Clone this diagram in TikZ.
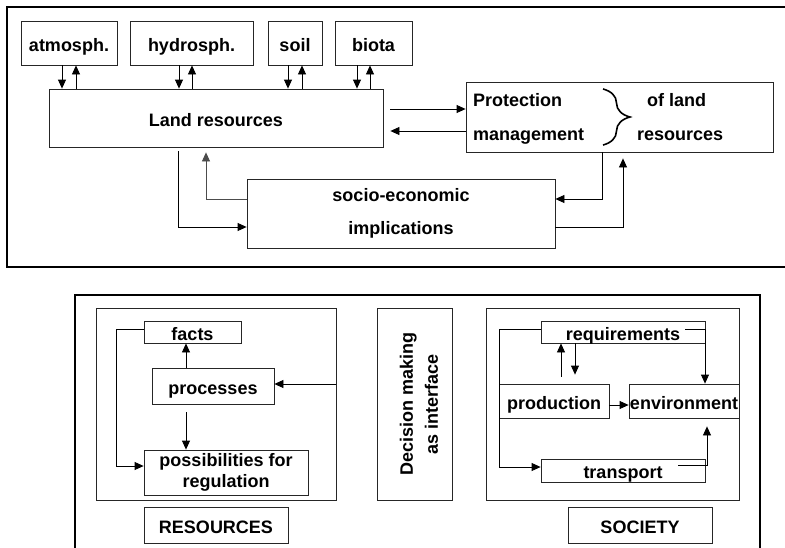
\documentclass[tikz,border=0pt]{standalone}
\usepackage{fontspec}
\setmainfont{Liberation Sans}
\usetikzlibrary{arrows.meta,decorations.pathreplacing}
\begin{document}
\begin{tikzpicture}[x=1pt,y=-1pt,
  bx/.style={draw=black!85, line width=0.8pt, inner sep=0pt, rectangle, align=center, font=\bfseries\fontsize{18}{21}\selectfont},
  one/.style={bx, text height=16pt, text depth=0pt},
  lbl/.style={inner sep=0pt, font=\bfseries\fontsize{18}{22}\selectfont},
  arr/.style={line width=0.8pt, -{Triangle[length=9pt,width=8pt]}},
  frame/.style={draw=black, line width=2.2pt}]
\useasboundingbox (0,0) rectangle (785,547);
% frames
\draw[frame] (7,7) rectangle (795,267);
\draw[frame] (75,295) rectangle (760,560);
% top part
\node[one, minimum width=96pt, minimum height=44pt] (atm) at (69,43) {atmosph.};
\node[one, minimum width=123pt, minimum height=44pt] (hyd) at (191.5,43) {hydrosph.};
\node[one, minimum width=54pt, minimum height=44pt] (soil) at (295,43) {soil};
\node[one, minimum width=77pt, minimum height=44pt] (bio) at (373.5,43) {biota};
\node[one, minimum width=334pt, minimum height=58pt] (land) at (216,118) {Land resources};
\node[bx, minimum width=307pt, minimum height=70pt] (prot) at (619.5,117) {};
\node[lbl, anchor=base west] (tprot) at (473,106) {Protection};
\node[lbl, anchor=base west] (tman) at (473,140) {management};
\node[lbl, anchor=base west] (tof) at (647,106) {of land};
\node[lbl, anchor=base west] (tres) at (637,140) {resources};
\coordinate (brtop) at (603,89);
\coordinate (brbot) at (603,145);
\draw[line width=1.6pt, decorate, decoration={brace, amplitude=27pt}] (brtop) -- (brbot);
\node[bx, minimum width=308pt, minimum height=69pt, font=\bfseries\fontsize{18}{33}\selectfont] (soc) at (401,213.5) {socio-economic\\implications};
% top arrows
\draw[arr] (atm.south -| 62,0) -- (land.north -| 62,0);
\draw[arr] (land.north -| 76,0) -- (atm.south -| 76,0);
\draw[arr] (hyd.south -| 179,0) -- (land.north -| 179,0);
\draw[arr] (land.north -| 192,0) -- (hyd.south -| 192,0);
\draw[arr] (soil.south -| 288,0) -- (land.north -| 288,0);
\draw[arr] (land.north -| 302,0) -- (soil.south -| 302,0);
\draw[arr] (bio.south -| 357,0) -- (land.north -| 357,0);
\draw[arr] (land.north -| 370,0) -- (bio.south -| 370,0);
\draw[arr, shorten <=7pt] (land.east |- 0,109) -- (prot.west |- 0,109);
\draw[arr, shorten >=7pt] (prot.west |- 0,131) -- (land.east |- 0,131);
\draw[arr, shorten <=4pt] (land.south -| 178,0) |- (soc.west |- 0,227);
\draw[arr, draw=black!70, shorten >=5pt] (soc.west |- 0,199) -| (land.south -| 206,0);
\draw[arr] (prot.south -| 602,0) |- (soc.east |- 0,199);
\draw[arr, shorten >=6pt] (soc.east |- 0,227) -| (prot.south -| 623,0);
% bottom left
\node[bx, minimum width=240pt, minimum height=192pt] (L) at (216,404) {};
\node[one, minimum width=97pt, minimum height=22pt] (facts) at (192.5,332) {facts};
\node[one, minimum width=122pt, minimum height=36pt] (proc) at (213,386) {processes};
\node[bx, minimum width=164pt, minimum height=45pt, font=\bfseries\fontsize{18}{20.5}\selectfont] (poss) at (226,472.5) {possibilities for\\regulation};
\node[one, minimum width=144pt, minimum height=36pt] (resL) at (216,525) {RESOURCES};
\draw[arr] (proc.north -| 186,0) -- (facts.south -| 186,0);
\draw[arr, shorten <=8pt] (proc.south -| 186,0) -- (poss.north -| 186,0);
\draw[arr] (facts.west |- 0,329) -| (116,466) -- (poss.west |- 0,466);
\draw[arr] (L.east |- 0,384) -- (proc.east |- 0,384);
% decision
\node[bx, minimum width=75pt, minimum height=192pt] (dec) at (414.5,404) {};
\node[lbl, rotate=90, align=center, font=\bfseries\fontsize{18}{25}\selectfont] (dect) at (419,404) {Decision making\\as interface};
% bottom right
\node[bx, minimum width=253pt, minimum height=192pt] (R) at (612.5,404) {};
\node[one, minimum width=164pt, minimum height=22pt] (req) at (623,332) {requirements};
\node[one, minimum width=110pt, minimum height=34pt] (prod) at (554,401) {production};
\node[one, minimum width=110pt, minimum height=34pt] (env) at (684,401) {environment};
\node[one, minimum width=164pt, minimum height=23pt] (trans) at (623,470.5) {transport};
\node[one, minimum width=144pt, minimum height=36pt] (soc2) at (640,525) {SOCIETY};
\draw[arr] (req.west |- 0,329) -| (499,467) -- (trans.west |- 0,467);
\coordinate (reqtail) at (685,329);
\draw[arr] (reqtail) -| (env.north -| 705,0);
\draw[arr, shorten <=7pt] (prod.north -| 561,0) -- (req.south -| 561,0);
\draw[arr, shorten >=9pt] (req.south -| 575,0) -- (prod.north -| 575,0);
\draw[arr] (prod.east |- 0,405) -- (env.west |- 0,405);
\coordinate (trtail) at (678,465);
\draw[arr, shorten >=8pt] (trtail) -| (env.south -| 707,0);
\end{tikzpicture}
\end{document}
